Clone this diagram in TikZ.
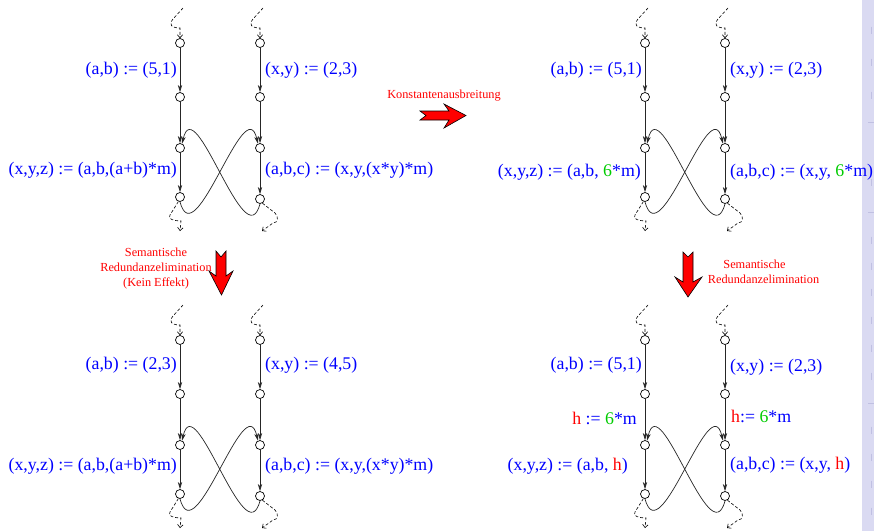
\documentclass[tikz,border=0pt]{standalone}
\usepackage{fontspec}
\setmainfont{Liberation Serif}
\usetikzlibrary{arrows.meta,calc}
\definecolor{lblue}{rgb}{0,0,1}
\definecolor{lgreen}{rgb}{0,0.8,0}
\definecolor{lred}{rgb}{1,0,0}
\definecolor{sidebar}{RGB}{218,218,242}
\definecolor{sidemark}{RGB}{192,192,226}
\newcommand\gtxt[1]{\textcolor{lgreen}{#1}}
\newcommand\rtxt[1]{\textcolor{lred}{#1}}
\tikzset{
  vtx/.style={circle,draw=black,line width=0.7pt,minimum size=9pt,inner sep=0pt,fill=white},
  edge/.style={draw=black!85,line width=0.7pt,-{Stealth[length=7pt,width=4.2pt,inset=2pt]}},
  sq/.style={draw=black,line width=0.6pt,dash pattern=on 3pt off 2pt,-{Straight Barb[length=3pt,width=5.5pt]}},
  lbl/.style={text=lblue,font=\fontsize{17.8}{21}\selectfont,inner sep=0pt},
  rlbl/.style={text=lred,font=\fontsize{12.3}{15}\selectfont,align=center,inner sep=0pt},
  blk/.style={fill=red,draw=black,line width=0.6pt,line join=miter},
  flow/.pic={
    \node[vtx] (-a1) at (0,0) {};
    \node[vtx] (-a2) at (0,54) {};
    \node[vtx] (-a3) at (0,105) {};
    \node[vtx] (-a4) at (0,154) {};
    \node[vtx] (-b1) at (80,0) {};
    \node[vtx] (-b2) at (80,54) {};
    \node[vtx] (-b3) at (80,105) {};
    \node[vtx] (-b4) at (80,156) {};
    \draw[edge] (-a1) -- (-a2);
    \draw[edge] (-a2) -- (-a3);
    \draw[edge] (-a3) -- (-a4);
    \draw[edge] (-b1) -- (-b2);
    \draw[edge] (-b2) -- (-b3);
    \draw[edge] (-b3) -- (-b4);
    \draw[edge] (-a4.south) .. controls (15,215) and (65,45) .. (-b3.115);
    \draw[edge] (-b4.south) .. controls (65,217) and (15,45) .. (-a3.65);
    \coordinate (-ta) at (3,-35);
    \coordinate (-tb) at (83,-35);
    \coordinate (-ea) at (0,188);
    \coordinate (-eb) at (82,188);
    \draw[sq] (-ta) -- (-7,-24) .. controls (-12,-18) and (-8,-15) .. (0,-15) -- (-a1);
    \draw[sq] (-tb) -- (73,-24) .. controls (68,-18) and (72,-15) .. (80,-15) -- (-b1);
    \draw[sq] (-a4.250) -- (-10,172) .. controls (-13,176) and (-6,178) .. (1,178) -- (-ea);
    \draw[sq] (-b4.300) -- (95,170) .. controls (99,174) and (98,180) .. (93,180) -- (-eb);
  }
}
\begin{document}
\begin{tikzpicture}[x=1pt,y={(0pt,-1pt)}]
\useasboundingbox (0,0) rectangle (874,531);
\fill[white] (0,0) rectangle (874,531);
% sidebar
\fill[sidebar] (862,0) rectangle (874,531);
\foreach \yy in {30,62,95,182,240,266,292,320,348,376,430,457,484,511}
  \draw[sidemark,line width=1pt] (871.5,\yy-3.5) -- (871.5,\yy+3.5);
\foreach \yy in {122,212,403}
  \draw[sidemark,line width=0.8pt] (868,\yy) -- (874,\yy);

% graphs
\pic (tl) at (180,43) {flow};
\pic (tr) at (645,43) {flow};
\pic (bl) at (180,340) {flow};
\pic (br) at (645,340) {flow};

% top-left labels
\node[lbl,anchor=east] at ($(tl-a1)!0.5!(tl-a2)+(-3,0)$) {(a,b) := (5,1)};
\node[lbl,anchor=west] at ($(tl-b1)!0.5!(tl-b2)+(5,0)$) {(x,y) := (2,3)};
\node[lbl,anchor=east] at ($(tl-a3)!0.5!(tl-a4)+(-3,-2)$) {(x,y,z) := (a,b,(a+b)*m)};
\node[lbl,anchor=west] at ($(tl-b3)!0.5!(tl-b4)+(5,-3)$) {(a,b,c) := (x,y,(x*y)*m)};

% top-right labels
\node[lbl,anchor=east] at ($(tr-a1)!0.5!(tr-a2)+(-3,0)$) {(a,b) := (5,1)};
\node[lbl,anchor=west] at ($(tr-b1)!0.5!(tr-b2)+(5,0)$) {(x,y) := (2,3)};
\node[lbl,anchor=east] at ($(tr-a3)!0.5!(tr-a4)+(-4,0)$) {(x,y,z) := (a,b, \gtxt{6}*m)};
\node[lbl,anchor=west] at ($(tr-b3)!0.5!(tr-b4)+(5,-1)$) {(a,b,c) := (x,y, \gtxt{6}*m)};

% bottom-left labels
\node[lbl,anchor=east] at ($(bl-a1)!0.5!(bl-a2)+(-3,-2)$) {(a,b) := (2,3)};
\node[lbl,anchor=west] at ($(bl-b1)!0.5!(bl-b2)+(5,-2)$) {(x,y) := (4,5)};
\node[lbl,anchor=east] at ($(bl-a3)!0.5!(bl-a4)+(-3,-3)$) {(x,y,z) := (a,b,(a+b)*m)};
\node[lbl,anchor=west] at ($(bl-b3)!0.5!(bl-b4)+(5,-4)$) {(a,b,c) := (x,y,(x*y)*m)};

% bottom-right labels
\node[lbl,anchor=east] at ($(br-a1)!0.5!(br-a2)+(-3,-2)$) {(a,b) := (5,1)};
\node[lbl,anchor=west] at ($(br-b1)!0.5!(br-b2)+(5,0)$) {(x,y) := (2,3)};
\node[lbl,anchor=east] at ($(br-a2)!0.5!(br-a3)+(-8,-1)$) {\rtxt{h} := \gtxt{6}*m};
\node[lbl,anchor=west] at ($(br-b2)!0.5!(br-b3)+(6,-3)$) {\rtxt{h}:= \gtxt{6}*m};
\node[lbl,anchor=east] at ($(br-a3)!0.5!(br-a4)+(-17,-3)$) {(x,y,z) := (a,b, \rtxt{h})};
\node[lbl,anchor=west] at ($(br-b3)!0.5!(br-b4)+(5,-5)$) {(a,b,c) := (x,y, \rtxt{h})};

% transformation labels
\node[rlbl] (k) at (444,96) {Konstantenausbreitung};
\node[rlbl] (s1) at (156,269) {Semantische\\Redundanzelimination\\(Kein Effekt)};
\node[rlbl] (s2) at (763.5,272) {Semantische\hspace*{18pt}\\Redundanzelimination};

% block arrows
\draw[blk] (420,111) -- (449,111) -- (444,104) -- (466,115.5) -- (444,128) -- (449,120) -- (420,120) -- (426,115.5) -- cycle;
\draw[blk] (216,251) -- (221,257) -- (226,251) -- (226,276) -- (233,271) -- (221.5,295) -- (209,271) -- (216,276) -- cycle;
\draw[blk] (683,252) -- (688,257) -- (693,252) -- (693,282) -- (702,277) -- (688,297) -- (675,277) -- (683,282) -- cycle;
\end{tikzpicture}
\end{document}
